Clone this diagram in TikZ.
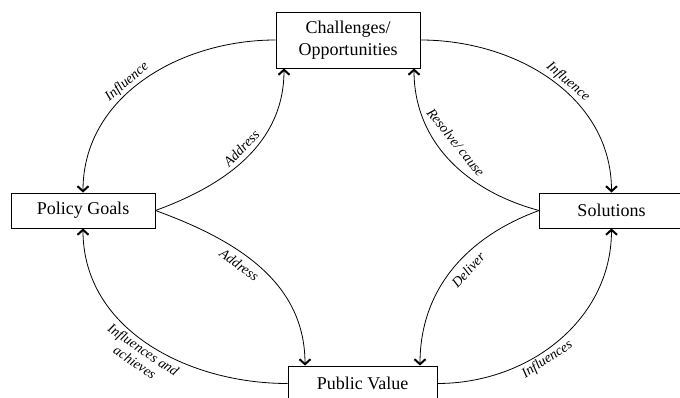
\documentclass[tikz,border=0pt]{standalone}
\usepackage{fontspec}
\setmainfont{Liberation Serif}
\usetikzlibrary{arrows.meta}
\begin{document}
\begin{tikzpicture}[x=1pt,y=1pt,
  box/.style={draw, line width=0.9pt, minimum width=144pt, align=center,
    font=\fontsize{18}{22}\selectfont, inner sep=0pt},
  link/.style={line width=0.8pt,
    -{Straight Barb[length=5pt,width=11pt,line width=2pt]}},
  lab/.style={font=\fontsize{14}{15}\selectfont\itshape, sloped, inner sep=2pt, align=center}]
\useasboundingbox (0,0) rectangle (680,-398);
\clip (0,0) rectangle (680,-398);

% boxes
\node[box, minimum height=56pt] (ch) at (348,-40) {Challenges/\\Opportunities};
\node[box, minimum height=35pt] (pg) at (83,-210.5) {Policy Goals};
\node[box, minimum height=35pt] (sol) at (611.5,-210.5) {Solutions};
\node[box, minimum height=35pt, minimum width=149pt] (pv) at (362.5,-383.5) {Public Value};

% upper left lens
\draw[link] (ch.west) to[out=180,in=90]
  node[lab, above, pos=0.55] {Influence} (pg.north);
\draw[link] (pg.east) to[out=20,in=-90]
  node[lab, above=3pt, pos=0.52] {Address} ([xshift=-64pt]ch.south);

% upper right lens
\draw[link] (ch.east) to[out=0,in=90]
  node[lab, above, pos=0.55] {Influence} (sol.north);
\draw[link] (sol.west) to[out=165,in=-90]
  node[lab, above=9pt, pos=0.55] {Resolve/ cause} ([xshift=66pt]ch.south);

% lower left lens
\draw[link] (pg.east) to[out=-20,in=90]
  node[lab, below=4pt, pos=0.42] {Address} ([xshift=-57.5pt]pv.north);
\draw[link] (pv.west) to[out=180,in=-90]
  node[lab, below, pos=0.5] {Influences and\\achieves} (pg.south);

% lower right lens
\draw[link] (sol.west) to[out=200,in=90]
  node[lab, below=5pt, pos=0.45] {Deliver} ([xshift=57.5pt]pv.north);
\draw[link] (pv.east) to[out=0,in=-90]
  node[lab, below, pos=0.42] {Influences} (sol.south);
\end{tikzpicture}
\end{document}
